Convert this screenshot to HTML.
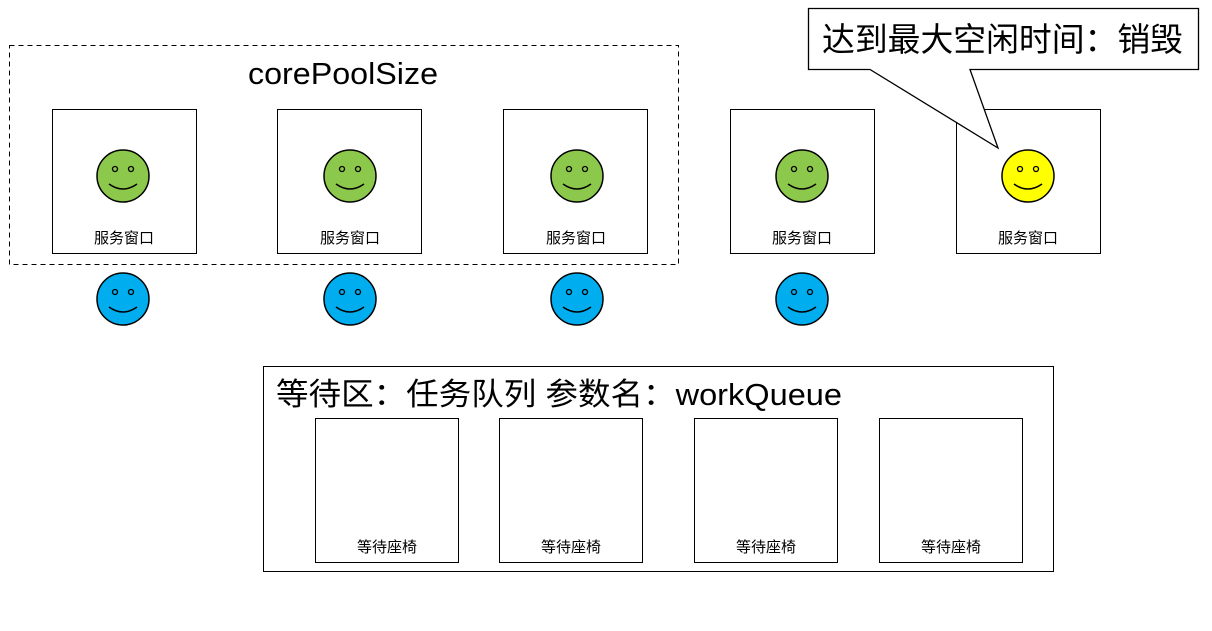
<!DOCTYPE html>
<html><head><meta charset="utf-8"><style>body{margin:0;background:#fff}</style></head><body>
<svg width="1212" height="626" xmlns="http://www.w3.org/2000/svg" font-family="Liberation Sans, Noto Sans CJK SC, sans-serif">
<defs>
<g id="face"><circle r="26" stroke="#000" stroke-width="1.5"/><circle cx="-8" cy="-7" r="2.5" fill="none" stroke="#000" stroke-width="1.3"/><circle cx="8" cy="-7" r="2.5" fill="none" stroke="#000" stroke-width="1.3"/><path d="M-14 8 Q0 18 14 8" fill="none" stroke="#000" stroke-width="1.5"/></g>
</defs>
<rect x="9.5" y="45.5" width="669" height="219" fill="none" stroke="#000" stroke-dasharray="5,4"/>
<text x="248" y="84" font-size="31" textLength="190" lengthAdjust="spacingAndGlyphs">corePoolSize</text>
<g fill="none" stroke="#000">
<rect x="52.5" y="109.5" width="144" height="144"/><rect x="277.5" y="109.5" width="144" height="144"/><rect x="503.5" y="109.5" width="144" height="144"/><rect x="730.5" y="109.5" width="144" height="144"/><rect x="956.5" y="109.5" width="144" height="144"/>
</g>
<use href="#face" x="123" y="176" fill="#8cc84b"/><use href="#face" x="350" y="176" fill="#8cc84b"/><use href="#face" x="577" y="176" fill="#8cc84b"/><use href="#face" x="802" y="176" fill="#8cc84b"/><use href="#face" x="1028" y="176" fill="#ffff00"/>
<use href="#face" x="123" y="299" fill="#00aeef"/><use href="#face" x="350" y="299" fill="#00aeef"/><use href="#face" x="577" y="299" fill="#00aeef"/><use href="#face" x="802" y="299" fill="#00aeef"/>
<g font-size="15" text-anchor="middle"><text x="124" y="243">服务窗口</text><text x="350" y="243">服务窗口</text><text x="576" y="243">服务窗口</text><text x="802" y="243">服务窗口</text><text x="1028" y="243">服务窗口</text></g>
<path d="M808.5 8.5 H1198.5 V69.5 H970 L998 148 L870 69.5 H808.5 Z" fill="#fff" stroke="#000" stroke-width="1.3"/>
<text x="822" y="51" font-size="33" textLength="361" lengthAdjust="spacingAndGlyphs">达到最大空闲时间：销毁</text>
<rect x="263.5" y="366.5" width="790" height="205" fill="none" stroke="#000"/>
<text x="276" y="405" font-size="31" textLength="566" lengthAdjust="spacingAndGlyphs">等待区：任务队列 参数名：workQueue</text>
<g fill="none" stroke="#000"><rect x="315.5" y="418.5" width="143" height="144"/><rect x="499.5" y="418.5" width="143" height="144"/><rect x="694.5" y="418.5" width="143" height="144"/><rect x="879.5" y="418.5" width="143" height="144"/></g>
<g font-size="15" text-anchor="middle"><text x="387" y="552">等待座椅</text><text x="571" y="552">等待座椅</text><text x="766" y="552">等待座椅</text><text x="951" y="552">等待座椅</text></g>
</svg>
</body></html>
